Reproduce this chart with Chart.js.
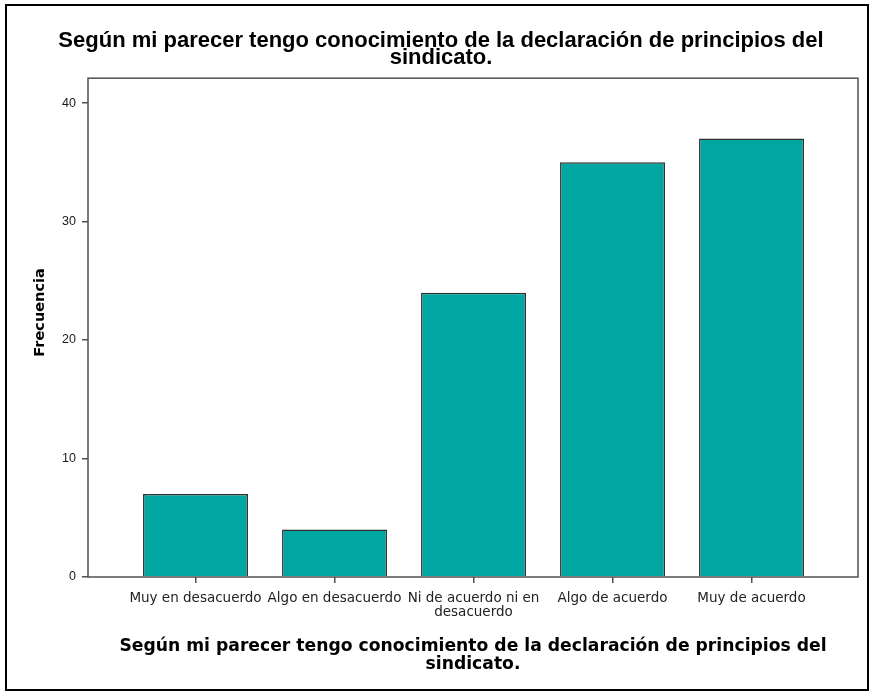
<!DOCTYPE html>
<html>
<head>
<meta charset="utf-8">
<script src="https://cdn.jsdelivr.net/npm/chart.js@4.4.1/dist/chart.umd.min.js"></script>
<style>
  html, body { margin: 0; padding: 0; background: #ffffff; }
  #wrap { width: 871px; height: 692px; }
</style>
</head>
<body>
<div id="wrap"><canvas id="c" width="871" height="692"></canvas></div>
<script>
// ---- data ----
const categories = ["Muy en desacuerdo", "Algo en desacuerdo", "Ni de acuerdo ni en desacuerdo", "Algo de acuerdo", "Muy de acuerdo"];
const tickLabels = ["Muy en desacuerdo", "Algo en desacuerdo", ["Ni de acuerdo ni en", "desacuerdo"], "Algo de acuerdo", "Muy de acuerdo"];
const frecuencia = [7, 4, 24, 35, 37];
const yTickValues = [0, 10, 20, 30, 40];
const chartTitle = ["Según mi parecer tengo conocimiento de la declaración de principios del", "sindicato."];
const xTitle = ["Según mi parecer tengo conocimiento de la declaración de principios del", "sindicato."];
const yTitle = "Frecuencia";

const points = frecuencia.map((v, i) => ({ x: i + 1, y: v }));

const framePlugin = {
  id: 'frame',
  beforeDraw(chart) {
    const ctx = chart.ctx;
    ctx.save();
    ctx.fillStyle = '#ffffff';
    ctx.fillRect(0, 0, chart.width, chart.height);
    ctx.restore();
  },
  afterDatasetsDraw(chart) {
    const { ctx, chartArea: a } = chart;
    ctx.save();
    ctx.strokeStyle = '#505050';
    ctx.lineWidth = 1.5;
    ctx.strokeRect(a.left, a.top, a.right - a.left, a.bottom - a.top);
    ctx.restore();
  },
  afterDraw(chart) {
    const ctx = chart.ctx;
    ctx.save();
    ctx.strokeStyle = '#000000';
    ctx.lineWidth = 2;
    ctx.strokeRect(6, 5, 862, 685);
    ctx.restore();
  }
};

new Chart(document.getElementById('c'), {
  type: 'bar',
  data: {
    datasets: [{
      label: yTitle,
      data: points,
      backgroundColor: '#00a6a1',
      borderColor: '#303030',
      borderWidth: 1.5,
      categoryPercentage: 1,
      barPercentage: 0.755
    }]
  },
  options: {
    responsive: false,
    animation: false,
    devicePixelRatio: 1,
    layout: { padding: { left: 24, right: 13, top: 0, bottom: 0 } },
    plugins: {
      legend: { display: false },
      tooltip: { enabled: false },
      title: {
        display: true,
        text: chartTitle,
        color: '#000000',
        font: { family: 'Liberation Sans', size: 22, weight: 'bold', lineHeight: 0.8 },
        padding: { top: 32, bottom: 11 }
      }
    },
    scales: {
      x: {
        type: 'linear',
        offset: false,
        min: 0.2266,
        max: 5.766,
        afterBuildTicks: (scale) => {
          scale.ticks = categories.map((c, i) => ({ value: i + 1 }));
        },
        afterFit: (scale) => { scale.height = 115; },
        grid: { display: true, offset: false, drawOnChartArea: false, drawTicks: true, tickLength: 6, color: '#505050', lineWidth: 1.5 },
        border: { display: false },
        ticks: {
          stepSize: 1,
          autoSkip: false,
          maxRotation: 0,
          minRotation: 0,
          padding: 8,
          color: '#222222',
          font: { family: 'DejaVu Sans', size: 13.5, lineHeight: 1.07 },
          callback: (value) => tickLabels[value - 1]
        },
        title: {
          display: true,
          text: xTitle,
          color: '#000000',
          font: { family: 'DejaVu Sans', size: 17.2, weight: 'bold', lineHeight: 1.05 },
          padding: { top: 0, bottom: 18 }
        }
      },
      y: {
        min: 0,
        max: 42.1,
        afterBuildTicks: (scale) => {
          scale.ticks = yTickValues.map(v => ({ value: v }));
        },
        afterFit: (scale) => { scale.width = 64; },
        grid: { display: true, drawOnChartArea: false, drawTicks: true, tickLength: 6, color: '#505050', lineWidth: 1.5 },
        border: { display: false },
        ticks: {
          stepSize: 10,
          padding: 6,
          color: '#1a1a1a',
          font: { family: 'Liberation Sans', size: 12.5 }
        },
        title: {
          display: true,
          text: "      " + yTitle,
          color: '#000000',
          font: { family: 'DejaVu Sans', size: 14.5, weight: 'bold', lineHeight: 1.2 },
          padding: { top: 8, bottom: 0 }
        }
      }
    }
  },
  plugins: [framePlugin]
});
</script>
</body>
</html>
